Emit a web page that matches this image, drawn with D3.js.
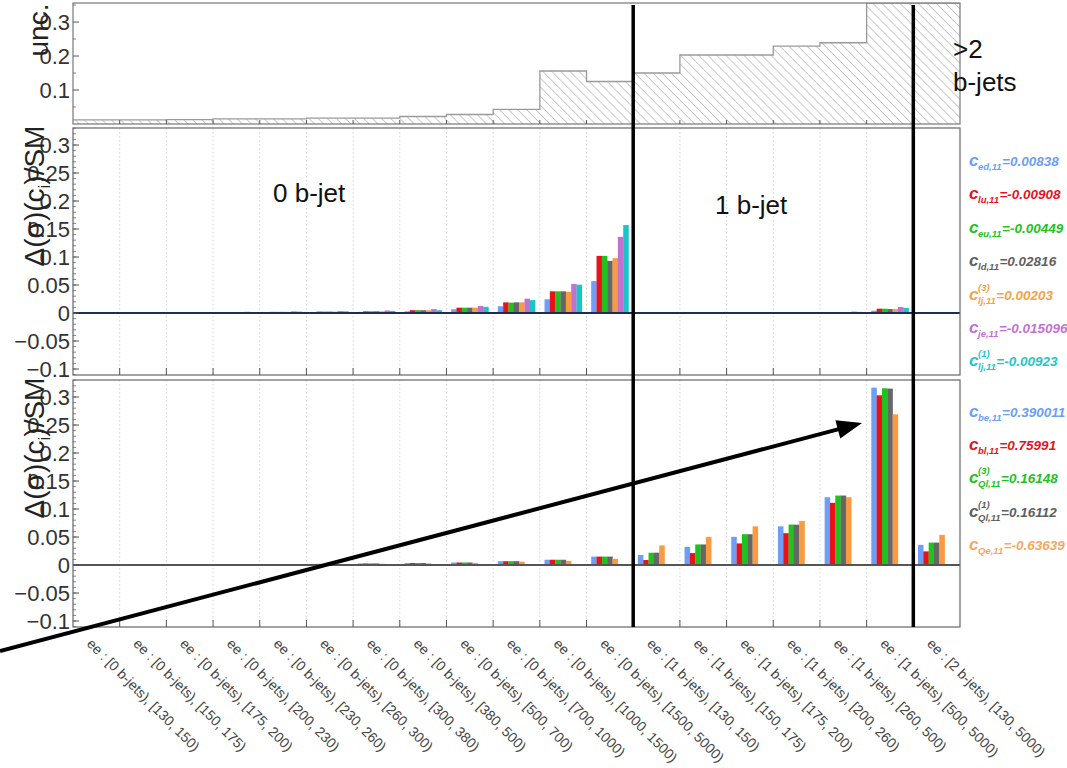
<!DOCTYPE html>
<html>
<head>
<meta charset="utf-8">
<script src="https://cdn.jsdelivr.net/npm/d3@7"></script>
<style>
  body { margin: 0; background: #fff; }
  svg { display: block; font-family: "Liberation Sans", Arial, sans-serif; }
</style>
</head>
<body>
<svg id="chart" width="1067" height="768"></svg>
<script>
// ---- categories (b-jet multiplicity, invariant-mass bins) ----
const categories = [
  "ee : [0 b-jets), [130, 150)", "ee : [0 b-jets), [150, 175)", "ee : [0 b-jets), [175, 200)",
  "ee : [0 b-jets), [200, 230)", "ee : [0 b-jets), [230, 260)", "ee : [0 b-jets), [260, 300)",
  "ee : [0 b-jets), [300, 380)", "ee : [0 b-jets), [380, 500)", "ee : [0 b-jets), [500, 700)",
  "ee : [0 b-jets), [700, 1000)", "ee : [0 b-jets), [1000, 1500)", "ee : [0 b-jets), [1500, 5000)",
  "ee : [1 b-jets), [130, 150)", "ee : [1 b-jets), [150, 175)", "ee : [1 b-jets), [175, 200)",
  "ee : [1 b-jets), [200, 260)", "ee : [1 b-jets), [260, 500)", "ee : [1 b-jets), [500, 5000)",
  "ee : [2 b-jets), [130, 5000)"
];

// ---- relative uncertainty per bin ----
const uncValues = [0.012, 0.012, 0.013, 0.015, 0.015, 0.017, 0.017, 0.022, 0.028, 0.043,
                   0.156, 0.125, 0.150, 0.203, 0.203, 0.229, 0.239, 0.356, 0.356];

// ---- light-quark operators: relative shift ----
const cEd  = [0.0003,0.0005,0.0008,0.0010,0.0012,0.0015,0.0020,0.0030,0.0066,0.0120,0.0245,0.0570,
              0.0002,0.0003,0.0004,0.0006,0.0010,0.0040,0];
const cLu  = [0.0005,0.0008,0.0012,0.0015,0.0020,0.0025,0.0030,0.0050,0.0095,0.0190,0.0387,0.1020,
              0.0003,0.0005,0.0007,0.0010,0.0018,0.0077,0];
const cEu  = [0.0005,0.0008,0.0012,0.0015,0.0020,0.0025,0.0030,0.0050,0.0095,0.0185,0.0387,0.1020,
              0.0003,0.0005,0.0007,0.0010,0.0018,0.0077,0];
const cLd  = [0.0005,0.0008,0.0012,0.0015,0.0020,0.0025,0.0030,0.0050,0.0095,0.0190,0.0387,0.0930,
              0.0003,0.0005,0.0007,0.0010,0.0017,0.0070,0];
const cLj3 = [0.0005,0.0008,0.0012,0.0015,0.0020,0.0025,0.0030,0.0050,0.0095,0.0190,0.0380,0.0980,
              0.0003,0.0005,0.0007,0.0010,0.0017,0.0070,0];
const cJe  = [0.0008,0.0012,0.0018,0.0022,0.0030,0.0035,0.0045,0.0070,0.0125,0.0256,0.0520,0.1360,
              0.0004,0.0006,0.0010,0.0015,0.0025,0.0107,0];
const cLj1 = [0.0006,0.0010,0.0014,0.0018,0.0025,0.0030,0.0038,0.0050,0.0110,0.0230,0.0506,0.1570,
              0.0003,0.0005,0.0008,0.0012,0.0020,0.0090,0];

// ---- b-quark operators: relative shift ----
const cBe  = [0.0008,0.0010,0.0012,0.0015,0.0018,0.0020,0.0028,0.0035,0.0045,0.0068,0.0094,0.0150,
              0.0178,0.0325,0.0503,0.0690,0.1210,0.3167,0.0360];
const cBl  = [0.0008,0.0010,0.0012,0.0015,0.0018,0.0020,0.0028,0.0035,0.0045,0.0068,0.0094,0.0150,
              0.0089,0.0213,0.0385,0.0568,0.1110,0.3030,0.0243];
const cQl3 = [0.0008,0.0010,0.0012,0.0015,0.0018,0.0020,0.0028,0.0035,0.0045,0.0068,0.0094,0.0150,
              0.0219,0.0367,0.0550,0.0722,0.1240,0.3156,0.0400];
const cQl1 = [0.0008,0.0010,0.0012,0.0015,0.0018,0.0020,0.0028,0.0035,0.0045,0.0068,0.0094,0.0150,
              0.0220,0.0367,0.0550,0.0720,0.1240,0.3150,0.0400];
const cQe  = [0.0006,0.0008,0.0010,0.0012,0.0014,0.0016,0.0022,0.0030,0.0038,0.0060,0.0075,0.0110,
              0.0350,0.0503,0.0690,0.0787,0.1210,0.2690,0.0538];

// ---- axis ticks ----
const topTicks = [0.1, 0.2, 0.3];
const topMinor = [0.05, 0.15, 0.25, 0.35];
const deltaTicks = [-0.1, -0.05, 0, 0.05, 0.1, 0.15, 0.2, 0.25, 0.3];
const deltaTickLabels = ["\u22120.1", "\u22120.05", "0", "0.05", "0.1", "0.15", "0.2", "0.25", "0.3"];

// ---- legends ----
const midSubs = ["ed,11", "lu,11", "eu,11", "ld,11", "lj,11", "je,11", "lj,11"];
const midSups = ["", "", "", "", "(3)", "", "(1)"];
const midVals = ["=0.00838", "=-0.00908", "=-0.00449", "=0.02816", "=0.00203", "=-0.015096", "=-0.00923"];
const botSubs = ["be,11", "bl,11", "Ql,11", "Ql,11", "Qe,11"];
const botSups = ["", "", "(3)", "(1)", ""];
const botVals = ["=0.390011", "=0.75991", "=0.16148", "=0.16112", "=-0.63639"];

const barColors = ["#6e9ef6", "#ec1119", "#1ec31e", "#666666", "#fb9a40", "#c370d3", "#18c6c9"];
const midLegendColors = ["#6d9ef5", "#e3141c", "#22c222", "#5f5f5f", "#f7a149", "#c272d4", "#22c6c8"];
const botLegendColors = ["#6d9ef5", "#e3141c", "#22c222", "#5f5f5f", "#f5a860"];

const svg = d3.select("#chart");
const L = 73, R = 960;

const x = d3.scaleBand().domain(categories).range([L, R]).paddingInner(0).paddingOuter(0);
const bw = x.bandwidth();
const slot = d3.scaleBand().domain(d3.range(7)).range([0.1 * bw, 0.9 * bw]).padding(0);

const defs = svg.append("defs");
defs.append("pattern")
  .attr("id", "hatch").attr("patternUnits", "userSpaceOnUse")
  .attr("width", 6.4).attr("height", 6.4).attr("patternTransform", "rotate(-45)")
  .append("line").attr("x1", 0).attr("y1", 0).attr("x2", 0).attr("y2", 6.4)
  .attr("stroke", "#8c8c8c").attr("stroke-width", 0.9);

function clip(id, y0, y1) {
  defs.append("clipPath").attr("id", id).append("rect")
    .attr("x", L).attr("y", y0).attr("width", R - L).attr("height", y1 - y0);
}

function yAxisTicks(g, y, majors, minors, majLen, minLen) {
  g.selectAll(null).data(minors).join("line")
    .attr("x1", L).attr("x2", L + minLen).attr("y1", d => y(d)).attr("y2", d => y(d))
    .attr("stroke", "#666").attr("stroke-width", 0.8);
  g.selectAll(null).data(majors).join("line")
    .attr("x1", L).attr("x2", L + majLen).attr("y1", d => y(d)).attr("y2", d => y(d))
    .attr("stroke", "#555").attr("stroke-width", 1);
}

function bottomTicks(g, yb, len) {
  g.selectAll(null).data(categories.slice(1)).join("line")
    .attr("x1", d => x(d)).attr("x2", d => x(d)).attr("y1", yb).attr("y2", yb - len)
    .attr("stroke", "#555").attr("stroke-width", 1);
}

// ================= top panel: uncertainty =================
{
  const y0 = 3, y1 = 124;
  const y = d3.scaleLinear().domain([0, 0.356]).range([y1, y0]);
  clip("clipTop", y0, y1);
  const g = svg.append("g");
  const inner = g.append("g").attr("clip-path", "url(#clipTop)");
  inner.selectAll("rect.bin").data(categories).join("rect").attr("class", "bin")
    .attr("x", d => x(d)).attr("width", bw)
    .attr("y", (d, i) => y(uncValues[i])).attr("height", (d, i) => y(0) - y(uncValues[i]))
    .attr("fill", "url(#hatch)");
  const pts = categories.map((c, i) => [x(c), y(uncValues[i])]);
  pts.push([R, y(uncValues[uncValues.length - 1])]);
  inner.append("path").attr("d", d3.line().curve(d3.curveStepAfter)(pts))
    .attr("fill", "none").attr("stroke", "#9a9a9a").attr("stroke-width", 1.3);
  g.append("rect").attr("x", L).attr("y", y0).attr("width", R - L).attr("height", y1 - y0)
    .attr("fill", "none").attr("stroke", "#777").attr("stroke-width", 1.2);
  yAxisTicks(g, y, topTicks, topMinor, 6, 3);
  bottomTicks(g, y1, 4);
  g.selectAll("text.tl").data(topTicks).join("text").attr("class", "tl")
    .attr("x", 70).attr("y", d => y(d)).attr("dy", "0.36em").attr("text-anchor", "end")
    .attr("font-size", 22).attr("fill", "#333").text(d => d.toFixed(1));
  g.append("text").attr("transform", "translate(48,30) rotate(-90)")
    .attr("text-anchor", "middle").attr("font-size", 28).attr("fill", "#222").text("unc.");
}

function deltaPanel(id, y0, y1, zeroY, series, zeroColor) {
  const pxPerUnit = 560;
  const y = d3.scaleLinear()
    .domain([(zeroY - y1) / pxPerUnit, (zeroY - y0) / pxPerUnit]).range([y1, y0]);
  clip(id, y0, y1);
  const g = svg.append("g");
  // dotted bin separators
  g.selectAll("line.grid").data(categories.slice(1)).join("line").attr("class", "grid")
    .attr("x1", d => x(d)).attr("x2", d => x(d)).attr("y1", y0).attr("y2", y1)
    .attr("stroke", "#c8c8c8").attr("stroke-width", 0.8).attr("stroke-dasharray", "1.5,2.5");
  const inner = g.append("g").attr("clip-path", `url(#${id})`);
  series.forEach((vals, j) => {
    inner.selectAll(null).data(categories).join("rect")
      .attr("x", d => x(d) + slot(j)).attr("width", slot.bandwidth() + 0.2)
      .attr("y", (d, i) => y(Math.max(vals[i], 0)))
      .attr("height", (d, i) => Math.abs(y(vals[i]) - y(0)))
      .attr("fill", barColors[j]);
  });
  inner.append("line").attr("x1", L).attr("x2", R).attr("y1", y(0)).attr("y2", y(0))
    .attr("stroke", zeroColor).attr("stroke-width", 1.8);
  g.append("rect").attr("x", L).attr("y", y0).attr("width", R - L).attr("height", y1 - y0)
    .attr("fill", "none").attr("stroke", "#666").attr("stroke-width", 1.2);
  const minors = d3.range(-11, 34).map(k => k / 100).filter(v => v >= y.domain()[0] && v <= y.domain()[1]);
  yAxisTicks(g, y, deltaTicks, minors, 6, 3);
  bottomTicks(g, y1, 7);
  g.selectAll("text.tl").data(deltaTicks).join("text").attr("class", "tl")
    .attr("x", 70).attr("y", d => y(d)).attr("dy", "0.36em").attr("text-anchor", "end")
    .attr("font-size", 22).attr("fill", "#333").text((d, i) => deltaTickLabels[i]);
  const lab = g.append("text").attr("transform", `translate(44,${y0 + 68}) rotate(-90)`)
    .attr("text-anchor", "middle").attr("font-size", 28).attr("fill", "#222");
  lab.append("tspan").text("\u0394(\u03c3)(c");
  lab.append("tspan").attr("font-size", 17).attr("dy", 6).text("i");
  lab.append("tspan").attr("dy", -6).text(")/SM");
  return y;
}

deltaPanel("clipMid", 128, 375, 313, [cEd, cLu, cEu, cLd, cLj3, cJe, cLj1], "#1f2d50");
deltaPanel("clipBot", 380, 627, 565, [cBe, cBl, cQl3, cQl1, cQe], "#555");

// ---- region labels ----
svg.append("text").attr("x", 273).attr("y", 202).attr("font-size", 26).attr("fill", "#111").text("0 b-jet");
svg.append("text").attr("x", 715).attr("y", 214).attr("font-size", 26).attr("fill", "#111").text("1 b-jet");
svg.append("text").attr("x", 953).attr("y", 58).attr("font-size", 26).attr("fill", "#111").text(">2");
svg.append("text").attr("x", 953).attr("y", 91).attr("font-size", 26).attr("fill", "#111").text("b-jets");

// ---- b-jet multiplicity separators ----
[categories[12], categories[18]].forEach(c => {
  svg.append("line").attr("x1", x(c)).attr("x2", x(c)).attr("y1", 5).attr("y2", 627)
    .attr("stroke", "#000").attr("stroke-width", 3.5);
});

// ---- x-axis bin labels ----
svg.append("g").selectAll("text").data(categories).join("text")
  .attr("transform", d => `translate(${x(d) + bw / 2 - 3},637) rotate(45)`)
  .attr("dy", "0.75em").attr("font-size", 14).attr("fill", "#444").text(d => d);

// ---- legends ----
function legend(subs, sups, vals, colors, yStart, step) {
  subs.forEach((sub, i) => {
    const yy = yStart + i * step;
    const g = svg.append("g").attr("fill", colors[i])
      .attr("font-weight", "bold").attr("font-style", "italic");
    g.append("text").attr("x", 969).attr("y", yy).attr("font-size", 17).text("c");
    const s = g.append("text").attr("x", 978).attr("y", yy + 4).attr("font-size", 9.5).text(sub);
    let w = s.node().getComputedTextLength();
    if (sups[i]) {
      const sp = g.append("text").attr("x", 978).attr("y", yy - 9).attr("font-size", 9.5).text(sups[i]);
      w = Math.max(w, sp.node().getComputedTextLength());
    }
    g.append("text").attr("x", 978 + w + 0.5).attr("y", yy).attr("font-size", 13.5).text(vals[i]);
  });
}
legend(midSubs, midSups, midVals, midLegendColors, 166, 33.4);
legend(botSubs, botSups, botVals, botLegendColors, 416.7, 33.3);

// ---- arrow pointing at the highest 1 b-jet bin ----
{
  const start = [0, 651], tip = [862, 423];
  const dx = tip[0] - start[0], dy = tip[1] - start[1], len = Math.hypot(dx, dy);
  const ux = dx / len, uy = dy / len, px = -uy, py = ux;
  const head = 25, half = 9.5;
  const bx = tip[0] - ux * head, by = tip[1] - uy * head;
  svg.append("line").attr("x1", start[0]).attr("y1", start[1]).attr("x2", bx + ux * 2).attr("y2", by + uy * 2)
    .attr("stroke", "#000").attr("stroke-width", 4);
  svg.append("path")
    .attr("d", `M${tip[0]},${tip[1]}L${bx + px * half},${by + py * half}L${bx - px * half},${by - py * half}Z`)
    .attr("fill", "#000");
}
</script>
</body>
</html>
